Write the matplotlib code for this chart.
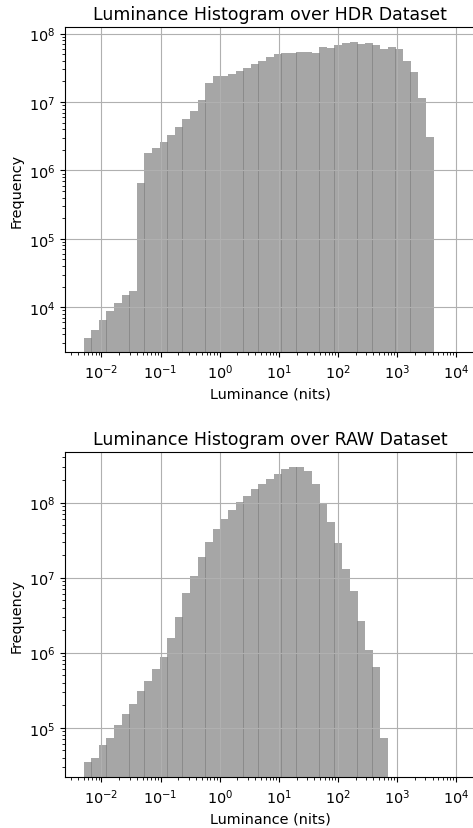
import numpy as np
import matplotlib
matplotlib.use('Agg')
import matplotlib.pyplot as plt

# shared log-spaced bin edges (49 bins from 0.005 to 1e4 nits)
bin_edges = np.logspace(np.log10(0.005), 4, 50)

hdr_counts = [3.6e3, 4.7e3, 6.4e3, 8.7e3, 1.17e4, 1.53e4, 1.75e4, 6.6e5, 1.8e6, 2.13e6,
              2.6e6, 3.3e6, 4.3e6, 5.6e6, 7.4e6, 1.07e7, 1.89e7, 2.39e7, 2.39e7, 2.55e7,
              2.82e7, 3.13e7, 3.57e7, 3.95e7, 4.52e7, 5.0e7, 5.17e7, 5.17e7, 5.35e7, 5.35e7,
              5.17e7, 6.33e7, 6.1e7, 6.76e7, 7.2e7, 7.5e7, 7.0e7, 7.2e7, 6.76e7, 5.9e7,
              6.33e7, 5.9e7, 3.95e7, 2.73e7, 1.14e7, 3.08e6, 0, 0, 0]

raw_counts = [3.44e4, 4.0e4, 5.97e4, 7.4e4, 1.10e5, 1.54e5, 2.1e5, 3.12e5, 4.24e5, 6.1e5,
              8.85e5, 1.58e6, 3.0e6, 6.3e6, 1.06e7, 1.89e7, 3.0e7, 4.47e7, 6.07e7, 7.99e7,
              1.02e8, 1.23e8, 1.52e8, 1.77e8, 2.06e8, 2.41e8, 2.81e8, 2.98e8, 2.98e8, 2.64e8,
              1.77e8, 9.9e7, 5.54e7, 2.9e7, 1.31e7, 6.7e6, 2.67e6, 1.10e6, 6.5e5, 7.2e4,
              0, 0, 0, 0, 0, 0, 0, 0, 0]

titles = ['Luminance Histogram over HDR Dataset', 'Luminance Histogram over RAW Dataset']

plt.rcParams['font.size'] = 10.4

fig = plt.figure(figsize=(4.73, 8.29), dpi=100)
ax1 = fig.add_axes([0.1374, 0.5738, 0.8668, 0.392])
ax2 = fig.add_axes([0.1374, 0.0612, 0.8668, 0.392])

# slight overlap between neighbouring bars gives the darker seams
widths = np.diff(bin_edges) * 1.045
for ax, counts, title in zip([ax1, ax2], [hdr_counts, raw_counts], titles):
    ax.bar(bin_edges[:-1], counts, width=widths, align='edge', log=True,
           color='gray', alpha=0.7, linewidth=0)
    ax.set_xscale('log')
    ax.set_title(title, fontsize=12.5)
    ax.set_xlabel('Luminance (nits)')
    ax.set_ylabel('Frequency')
    ax.grid(True)

fig.savefig('out.png', dpi=100)
